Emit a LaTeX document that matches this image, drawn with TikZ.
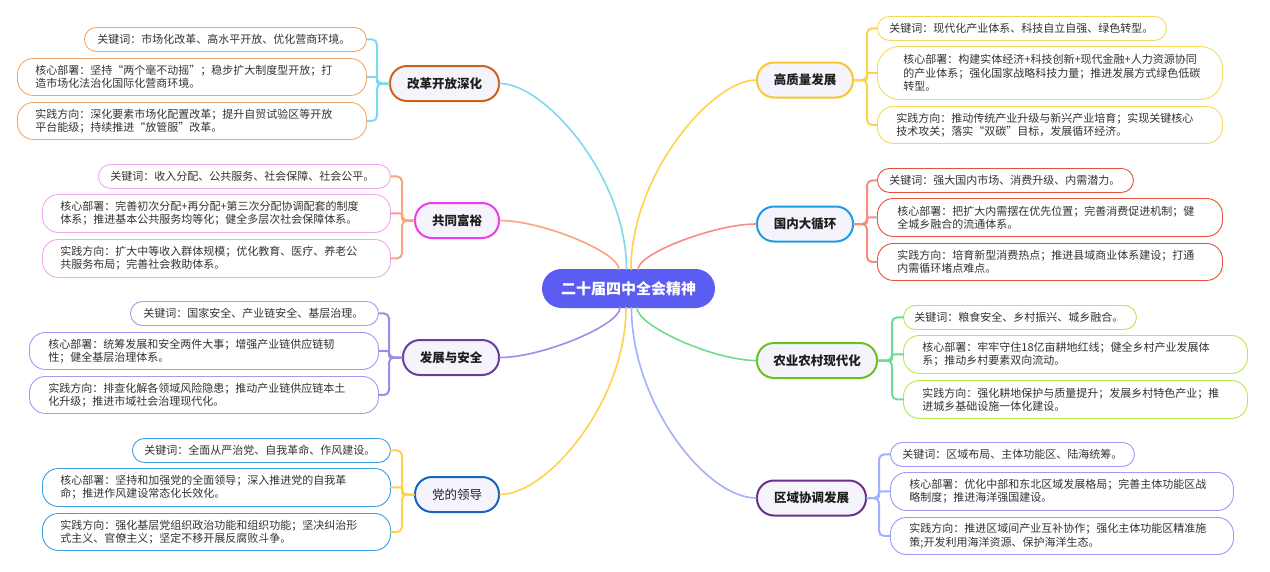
\documentclass[tikz,border=0pt]{standalone}
\usepackage{fontspec}
\setmainfont{Noto Sans CJK SC}
\usetikzlibrary{calc}
\definecolor{rootc}{HTML}{5A5CF2}
\definecolor{brfill}{HTML}{F5F4FD}
\definecolor{leaftext}{HTML}{333333}
\definecolor{brtext}{HTML}{1E1E1E}
% connector colours
\definecolor{cA}{HTML}{80D8EE}
\definecolor{cB}{HTML}{FBA27E}
\definecolor{cC}{HTML}{9E8CE8}
\definecolor{cD}{HTML}{FFD24C}
\definecolor{cE}{HTML}{FFD24C}
\definecolor{cF}{HTML}{F98C80}
\definecolor{cG}{HTML}{6EDC8C}
\definecolor{cH}{HTML}{A0B0FF}
% branch borders
\definecolor{bA}{HTML}{C8641E}
\definecolor{bB}{HTML}{EE3BEE}
\definecolor{bC}{HTML}{6A3D9A}
\definecolor{bD}{HTML}{1565C0}
\definecolor{bE}{HTML}{F8C630}
\definecolor{bF}{HTML}{1E9BE6}
\definecolor{bG}{HTML}{6CC01C}
\definecolor{bH}{HTML}{6A2F8C}
% leaf borders
\definecolor{lA}{HTML}{F0A868}
\definecolor{lB}{HTML}{F2A6F2}
\definecolor{lC}{HTML}{A898F4}
\definecolor{lD}{HTML}{3AA0E0}
\definecolor{lE}{HTML}{F8D85A}
\definecolor{lF}{HTML}{E8503C}
\definecolor{lG}{HTML}{B8E84C}
\definecolor{lH}{HTML}{A098F8}
\begin{document}
\begin{tikzpicture}[x=1pt,y=-1pt,
  leaf/.style={draw, fill=white, align=left, inner ysep=0pt, anchor=north west,
    font=\fontsize{11}{13.3}\selectfont, text=leaftext, line width=0.9pt},
  lone/.style={leaf, rounded corners=12pt, minimum height=24pt},
  ltwo/.style={leaf, rounded corners=16pt, minimum height=37pt},
  lthree/.style={leaf, rounded corners=22pt, minimum height=53pt},
  branch/.style={draw, line width=2pt, fill=brfill, rounded corners=17pt,
    minimum height=35pt, inner sep=0pt, text=brtext,
    font=\fontsize{12.5}{14}\selectfont\bfseries},
  rootbox/.style={fill=rootc, rounded corners=19.5pt, minimum width=173pt,
    minimum height=39pt, inner sep=0pt, text=white,
    font=\fontsize{15}{17}\selectfont\bfseries},
  conn/.style={line width=2pt, line cap=round},
  rconn/.style={line width=1.6pt, line cap=round}
]
\useasboundingbox (0,0) rectangle (1270,571);

% ---------- root ----------
\node[rootbox] (R) at (628.5,288.5) {二十届四中全会精神};

% ---------- branches ----------
\node[branch, draw=bA, minimum width=109pt] (A) at (444.5,83.5) {改革开放深化};
\node[branch, draw=bB, minimum width=84pt] (B) at (457,220.5) {共同富裕};
\node[branch, draw=bC, minimum width=96pt] (C) at (451,357.5) {发展与安全};
\node[branch, draw=bD, minimum width=84pt, font=\fontsize{12.5}{14}\selectfont] (D) at (457,494.5) {党的领导};
\node[branch, draw=bE, minimum width=96pt] (E) at (805,80) {高质量发展};
\node[branch, draw=bF, minimum width=96pt] (F) at (805,224) {国内大循环};
\node[branch, draw=bG, minimum width=120pt] (G) at (817,360.5) {农业农村现代化};
\node[branch, draw=bH, minimum width=109pt] (H) at (811.5,498) {区域协调发展};

% ---------- leaves: left ----------
\node[lone, draw=lA, inner xsep=13pt, text width=256pt] (A1) at (84,27) {关键词：市场化改革、高水平开放、优化营商环境。};
\node[ltwo, draw=lA, inner xsep=18pt, text width=313pt] (A2) at (17,58) {核心部署：坚持“两个毫不动摇”；稳步扩大制度型开放；打\\造市场化法治化国际化营商环境。};
\node[ltwo, draw=lA, inner xsep=18pt, text width=313pt] (A3) at (17,102) {实践方向：深化要素市场化配置改革；提升自贸试验区等开放\\平台能级；持续推进“放管服”改革。};

\node[lone, draw=lB, inner xsep=12pt, text width=268pt] (B1) at (98,164) {关键词：收入分配、公共服务、社会保障、社会公平。};
\node[ltwo, draw=lB, inner xsep=18pt, text width=312pt, minimum height=38pt] (B2) at (42,194) {核心部署：完善初次分配+再分配+第三次分配协调配套的制度\\体系；推进基本公共服务均等化；健全多层次社会保障体系。};
\node[ltwo, draw=lB, inner xsep=18pt, text width=312pt, minimum height=38pt] (B3) at (42,239) {实践方向：扩大中等收入群体规模；优化教育、医疗、养老公\\共服务布局；完善社会救助体系。};

\node[lone, draw=lC, inner xsep=13pt, text width=222pt] (C1) at (130,301) {关键词：国家安全、产业链安全、基层治理。};
\node[ltwo, draw=lC, inner xsep=19pt, text width=311pt] (C2) at (29,332) {核心部署：统筹发展和安全两件大事；增强产业链供应链韧\\性；健全基层治理体系。};
\node[ltwo, draw=lC, inner xsep=19pt, text width=311pt] (C3) at (29,376) {实践方向：排查化解各领域风险隐患；推动产业链供应链本土\\化升级；推进市域社会治理现代化。};

\node[lone, draw=lD, inner xsep=12pt, text width=234pt] (D1) at (132,438) {关键词：全面从严治党、自我革命、作风建设。};
\node[ltwo, draw=lD, inner xsep=18pt, text width=312pt, minimum height=38pt] (D2) at (42,468) {核心部署：坚持和加强党的全面领导；深入推进党的自我革\\命；推进作风建设常态化长效化。};
\node[ltwo, draw=lD, inner xsep=18pt, text width=312pt] (D3) at (42,513) {实践方向：强化基层党组织政治功能和组织功能；坚决纠治形\\式主义、官僚主义；坚定不移开展反腐败斗争。};

% ---------- leaves: right ----------
\node[lone, draw=lE, inner xsep=12pt, text width=265pt] (E1) at (877,16) {关键词：现代化产业体系、科技自立自强、绿色转型。};
\node[lthree, draw=lE, inner xsep=26pt, text width=293pt] (E2) at (877,46) {核心部署：构建实体经济+科技创新+现代金融+人力资源协同\\的产业体系；强化国家战略科技力量；推进发展方式绿色低碳\\转型。};
\node[ltwo, draw=lE, inner xsep=19pt, text width=307pt] (E3) at (877,106) {实践方向：推动传统产业升级与新兴产业培育；实现关键核心\\技术攻关；落实“双碳”目标，发展循环经济。};

\node[lone, draw=lF, inner xsep=12pt, text width=232pt] (F1) at (877,168) {关键词：强大国内市场、消费升级、内需潜力。};
\node[ltwo, draw=lF, inner xsep=20pt, text width=305pt, minimum height=38pt] (F2) at (877,198) {核心部署：把扩大内需摆在优先位置；完善消费促进机制；健\\全城乡融合的流通体系。};
\node[ltwo, draw=lF, inner xsep=20pt, text width=305pt] (F3) at (877,243) {实践方向：培育新型消费热点；推进县域商业体系建设；打通\\内需循环堵点难点。};

\node[lone, draw=lG, inner xsep=11pt, text width=211pt] (G1) at (903,305) {关键词：粮食安全、乡村振兴、城乡融合。};
\node[ltwo, draw=lG, inner xsep=19pt, text width=306pt, minimum height=38pt] (G2) at (903,335) {核心部署：牢牢守住18亿亩耕地红线；健全乡村产业发展体\\系；推动乡村要素双向流动。};
\node[ltwo, draw=lG, inner xsep=19pt, text width=306pt, minimum height=38pt] (G3) at (903,380) {实践方向：强化耕地保护与质量提升；发展乡村特色产业；推\\进城乡基础设施一体化建设。};

\node[lone, draw=lH, inner xsep=12pt, text width=220pt] (H1) at (890,442) {关键词：区域布局、主体功能区、陆海统筹。};
\node[ltwo, draw=lH, inner xsep=19pt, text width=305pt, minimum height=38pt] (H2) at (890,472) {核心部署：优化中部和东北区域发展格局；完善主体功能区战\\略制度；推进海洋强国建设。};
\node[ltwo, draw=lH, inner xsep=19pt, text width=305pt] (H3) at (890,517) {实践方向：推进区域间产业互补协作；强化主体功能区精准施\\策;开发利用海洋资源、保护海洋生态。};

% ---------- root connectors ----------
\coordinate (rB) at ($(R.north)+(-9.5,0.5)$);
\coordinate (rA) at ($(R.north)+(-2,0.5)$);
\coordinate (rE) at ($(R.north)+(2.5,0.5)$);
\coordinate (rF) at ($(R.north)+(9.5,0.5)$);
\coordinate (rC) at ($(R.south)+(-8.5,-0.5)$);
\coordinate (rD) at ($(R.south)+(-2.5,-0.5)$);
\coordinate (rH) at ($(R.south)+(3,-0.5)$);
\coordinate (rG) at ($(R.south)+(8.5,-0.5)$);
% \b / anchor / vertical handle fraction / horizontal handle fraction
\foreach \b/\s/\a/\h in {A/east/0.5/0.65, D/east/0.5/0.62, E/west/0.5/0.65, H/west/0.5/0.6,
                         B/east/0.35/0.65, C/east/0.35/0.65, F/west/0.35/0.65, G/west/0.35/0.65}{
  \draw[rconn, c\b] (r\b) .. controls ($(r\b)!\a!(r\b |- \b.\s)$) and ($(r\b |- \b.\s)!\h!(\b.\s)$) .. (\b.\s);
}

% ---------- brackets: left ----------
\foreach \b/\d in {A/-12,B/-12,C/-13,D/-12}{
  \draw[conn, c\b, rounded corners=5pt] (\b.west) -- ++(\d,0) |- (\b1.east);
  \draw[conn, c\b, rounded corners=5pt] (\b.west) -- ++(\d,0) |- (\b3.east);
  \draw[conn, c\b, rounded corners=2pt] (\b.west) -- ++(\d,0) |- (\b2.east);
}
% ---------- brackets: right ----------
\foreach \b/\d in {E/13,F/13,G/14,H/12}{
  \draw[conn, c\b, rounded corners=5pt] (\b.east) -- ++(\d,0) |- (\b1.west);
  \draw[conn, c\b, rounded corners=5pt] (\b.east) -- ++(\d,0) |- (\b3.west);
  \draw[conn, c\b, rounded corners=2pt] (\b.east) -- ++(\d,0) |- (\b2.west);
}
\end{tikzpicture}
\end{document}
